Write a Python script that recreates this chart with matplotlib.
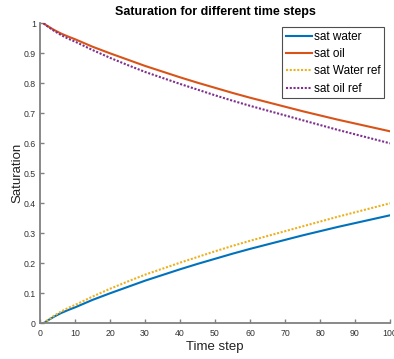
import matplotlib
matplotlib.use("Agg")
import matplotlib.pyplot as plt

steps = [1, 2, 4, 6, 8, 10, 15, 20, 25, 30, 35, 40, 45, 50, 55, 60, 65, 70, 75, 80, 85, 90, 95, 100]
sat_water = [0.0, 0.008, 0.022, 0.034, 0.044, 0.053, 0.078, 0.100, 0.121, 0.142, 0.161, 0.180, 0.198, 0.215, 0.232, 0.248, 0.263, 0.278, 0.293, 0.307, 0.321, 0.334, 0.347, 0.360]
sat_oil = [1.0, 0.992, 0.978, 0.966, 0.956, 0.947, 0.922, 0.900, 0.879, 0.858, 0.839, 0.820, 0.802, 0.785, 0.768, 0.752, 0.737, 0.722, 0.707, 0.693, 0.679, 0.666, 0.653, 0.640]
sat_water_ref = [0.0, 0.009, 0.025, 0.039, 0.051, 0.061, 0.089, 0.115, 0.139, 0.162, 0.182, 0.202, 0.221, 0.240, 0.258, 0.275, 0.291, 0.307, 0.323, 0.339, 0.355, 0.370, 0.385, 0.400]
sat_oil_ref = [1.0, 0.991, 0.975, 0.961, 0.949, 0.939, 0.911, 0.885, 0.861, 0.838, 0.818, 0.798, 0.779, 0.760, 0.742, 0.725, 0.709, 0.693, 0.677, 0.661, 0.645, 0.630, 0.615, 0.600]

labels = ["sat water", "sat oil", "sat Water ref", "sat oil ref"]
colors = ["#0072BD", "#D95319", "#EDB120", "#7E2F8E"]

xticks = list(range(0, 101, 10))
yticks = [0, 0.1, 0.2, 0.3, 0.4, 0.5, 0.6, 0.7, 0.8, 0.9, 1]
yticklabels = ["0", "0.1", "0.2", "0.3", "0.4", "0.5", "0.6", "0.7", "0.8", "0.9", "1"]

plt.rcParams['font.family'] = ['Liberation Sans', 'DejaVu Sans']

fig = plt.figure(figsize=(3.94, 3.59), dpi=100)
ax = fig.add_axes([40/394, 1 - 323.3/359, 350/394, 300/359])

ax.plot(steps, sat_water, color=colors[0], lw=1.5, label=labels[0])
ax.plot(steps, sat_oil, color=colors[1], lw=1.5, label=labels[1])
ax.plot(steps, sat_water_ref, color=colors[2], lw=1.5, ls=(0, (1, 0.8)), label=labels[2])
ax.plot(steps, sat_oil_ref, color=colors[3], lw=1.5, ls=(0, (1, 0.8)), label=labels[3])

ax.set_xlim(0, 100)
ax.set_ylim(0, 1)
ax.set_xticks(xticks)
ax.set_yticks(yticks)
ax.set_yticklabels(yticklabels)
for s in ["top", "right"]:
    ax.spines[s].set_visible(False)
for s in ["left", "bottom"]:
    ax.spines[s].set_color("#808080")
    ax.spines[s].set_linewidth(1.3)
ax.tick_params(direction="in", length=3, width=1, colors="#808080", labelsize=6.3, labelcolor="#333333")
ax.tick_params(axis="x", pad=4)
ax.tick_params(axis="y", pad=3)

ax.set_xlabel("Time step", fontsize=9.5, color="#222222", labelpad=2)
ax.set_ylabel("Saturation", fontsize=9.5, color="#222222", labelpad=0)
ax.set_title("Saturation for different time steps", fontsize=9, fontweight="bold", pad=6)

leg = ax.legend(loc="upper right", bbox_to_anchor=(0.983, 0.987), fontsize=8.5, frameon=True, fancybox=False,
                edgecolor="#222222", handlelength=2.2, handletextpad=0.2, borderpad=0.3, labelspacing=0.45,
                borderaxespad=0)
leg.get_frame().set_linewidth(0.8)

fig.savefig("out.png", dpi=100)
